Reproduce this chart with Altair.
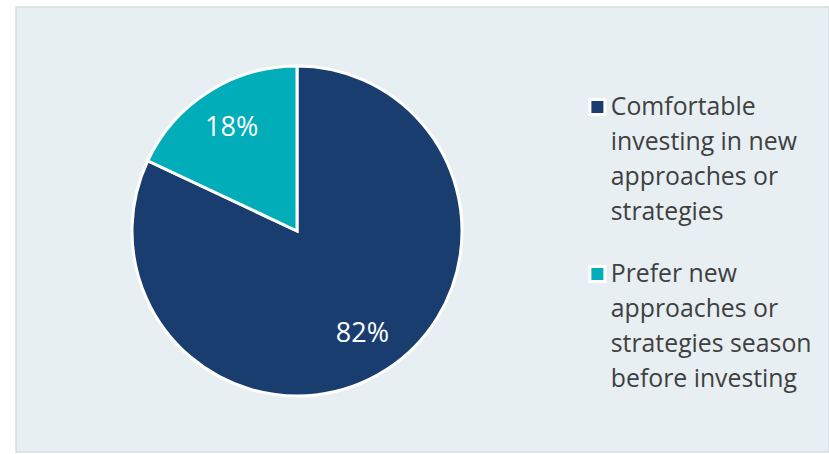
import altair as alt
import pandas as pd

categories = [
    "Comfortable\ninvesting in new\napproaches or\nstrategies",
    "Prefer new\napproaches or\nstrategies season\nbefore investing",
]
values = [82, 18]
labels = ["82%", "18%"]
colors = ["#1A3D6F", "#00ADB9"]

df = pd.DataFrame({"category": categories, "value": values, "label": labels,
                   "order": [0, 1]})

color_scale = alt.Scale(domain=categories, range=colors)

base = alt.Chart(df).encode(
    theta=alt.Theta("value:Q", stack=True),
    order=alt.Order("order:Q"),
)

pie = base.mark_arc(radius=165, stroke="white", strokeWidth=3).encode(
    x=alt.value(281),
    y=alt.value(224),
    color=alt.Color(
        "category:N",
        scale=color_scale,
        sort=categories,
        legend=alt.Legend(
            title=None,
            orient="none",
            legendX=569,
            legendY=87.5,
            padding=0,
            symbolType="square",
            symbolSize=225,
            symbolStrokeColor="white",
            symbolStrokeWidth=3,
            labelExpr="split(datum.label, '\\n')",
            labelFont="Open Sans",
            labelFontSize=24.8,
            labelColor="#404040",
            labelLimit=400,
            labelBaseline="top",
            labelOffset=1,
            rowPadding=34,
        ),
    ),
)

text = base.mark_text(radius=122, font="Open Sans", fontSize=27, color="white").encode(
    x=alt.value(281),
    y=alt.value(224),
    text="label:N",
)

chart = (
    alt.layer(pie, text)
    .properties(width=813, height=445, background="white",
                padding={"left": 16, "top": 7, "right": 0, "bottom": 2},
                autosize=alt.AutoSizeParams(type="none"),
                view=alt.ViewBackground(fill="#E7EFF2", stroke="#D6DDE2",
                                        strokeWidth=1.5))
    .configure(style={"guide-label": {"lineHeight": 35, "dy": -12}})
)

chart.save("out.html", embed_options={"renderer": "svg", "actions": False})
